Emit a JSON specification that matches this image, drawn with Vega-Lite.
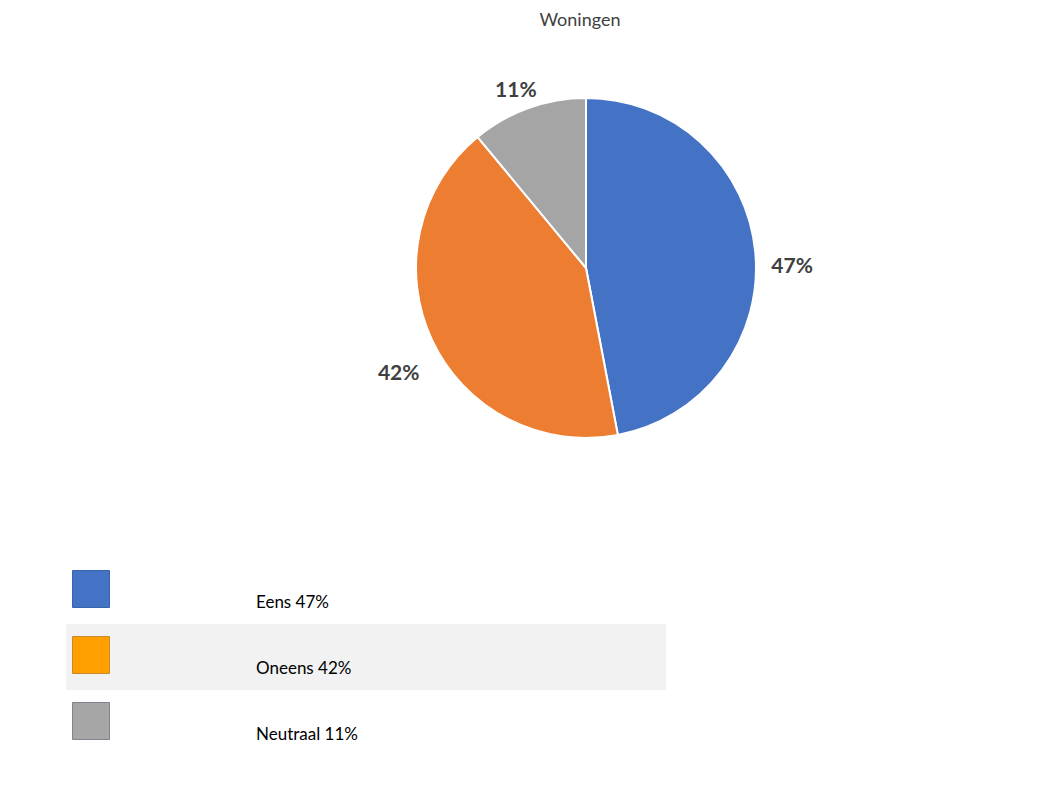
{
  "$schema": "https://vega.github.io/schema/vega-lite/v6.json",
  "width": 1052,
  "height": 790,
  "autosize": {"type": "fit", "contains": "padding"},
  "padding": {"top": 12, "left": 0, "right": 0, "bottom": 0},
  "background": "white",
  "title": {"text": "Woningen", "font": "Lato", "fontSize": 18, "fontWeight": "normal", "color": "#404040", "dx": 54, "offset": 7},
  "config": {"view": {"stroke": null}},
  "data": {"values": [
    {"category": "Eens", "idx": 1, "value": 47, "label": "47%", "legend": "Eens 47%"},
    {"category": "Oneens", "idx": 2, "value": 42, "label": "42%", "legend": "Oneens 42%"},
    {"category": "Neutraal", "idx": 3, "value": 11, "label": "11%", "legend": "Neutraal 11%"}
  ]},
  "layer": [
    {
      "mark": {"type": "arc", "radius": 170, "x": 586, "y": 231, "stroke": "white", "strokeWidth": 2},
      "encoding": {
        "theta": {"field": "value", "type": "quantitative", "stack": true},
        "order": {"field": "idx", "type": "quantitative"},
        "color": {"field": "category", "type": "nominal", "legend": null,
          "scale": {"domain": ["Eens", "Oneens", "Neutraal"], "range": ["#4472C4", "#ED7D31", "#A5A5A5"]}}
      }
    },
    {
      "mark": {"type": "text", "radius": 207, "x": 586, "y": 231, "dy": 18, "font": "Lato", "fontSize": 21, "fontWeight": "bold", "color": "#404040"},
      "encoding": {
        "theta": {"field": "value", "type": "quantitative", "stack": true},
        "order": {"field": "idx", "type": "quantitative"},
        "text": {"field": "label"}
      }
    },
    {
      "transform": [{"filter": "datum.category === 'Oneens'"}],
      "mark": {"type": "rect", "x": 66, "x2": 666, "color": "#F2F2F2"},
      "encoding": {
        "y": {"field": "category", "type": "nominal", "axis": null,
          "scale": {"type": "band", "domain": ["Eens", "Oneens", "Neutraal"], "range": [521, 719], "paddingInner": 0, "paddingOuter": 0}}
      }
    },
    {
      "mark": {"type": "square", "x": 91, "size": 1369, "opacity": 1, "filled": true, "yOffset": -2, "strokeWidth": 1},
      "encoding": {
        "y": {"field": "category", "type": "nominal", "axis": null,
          "scale": {"type": "band", "domain": ["Eens", "Oneens", "Neutraal"], "range": [521, 719], "paddingInner": 0, "paddingOuter": 0}},
        "fill": {"field": "category", "type": "nominal", "legend": null,
          "scale": {"domain": ["Eens", "Oneens", "Neutraal"], "range": ["#4472C4", "#FF9F00", "#A6A6A6"]}},
        "stroke": {"field": "category", "type": "nominal", "legend": null,
          "scale": {"domain": ["Eens", "Oneens", "Neutraal"], "range": ["#3A63AE", "#C98A2E", "#7F8590"]}}
      }
    },
    {
      "mark": {"type": "text", "x": 256, "align": "left", "baseline": "middle", "dy": 12, "font": "Lato", "fontSize": 17, "color": "#000000"},
      "encoding": {
        "y": {"field": "category", "type": "nominal", "axis": null,
          "scale": {"type": "band", "domain": ["Eens", "Oneens", "Neutraal"], "range": [521, 719], "paddingInner": 0, "paddingOuter": 0}},
        "text": {"field": "legend"}
      }
    }
  ],
  "resolve": {"scale": {"color": "independent", "fill": "independent", "stroke": "independent"}}
}
